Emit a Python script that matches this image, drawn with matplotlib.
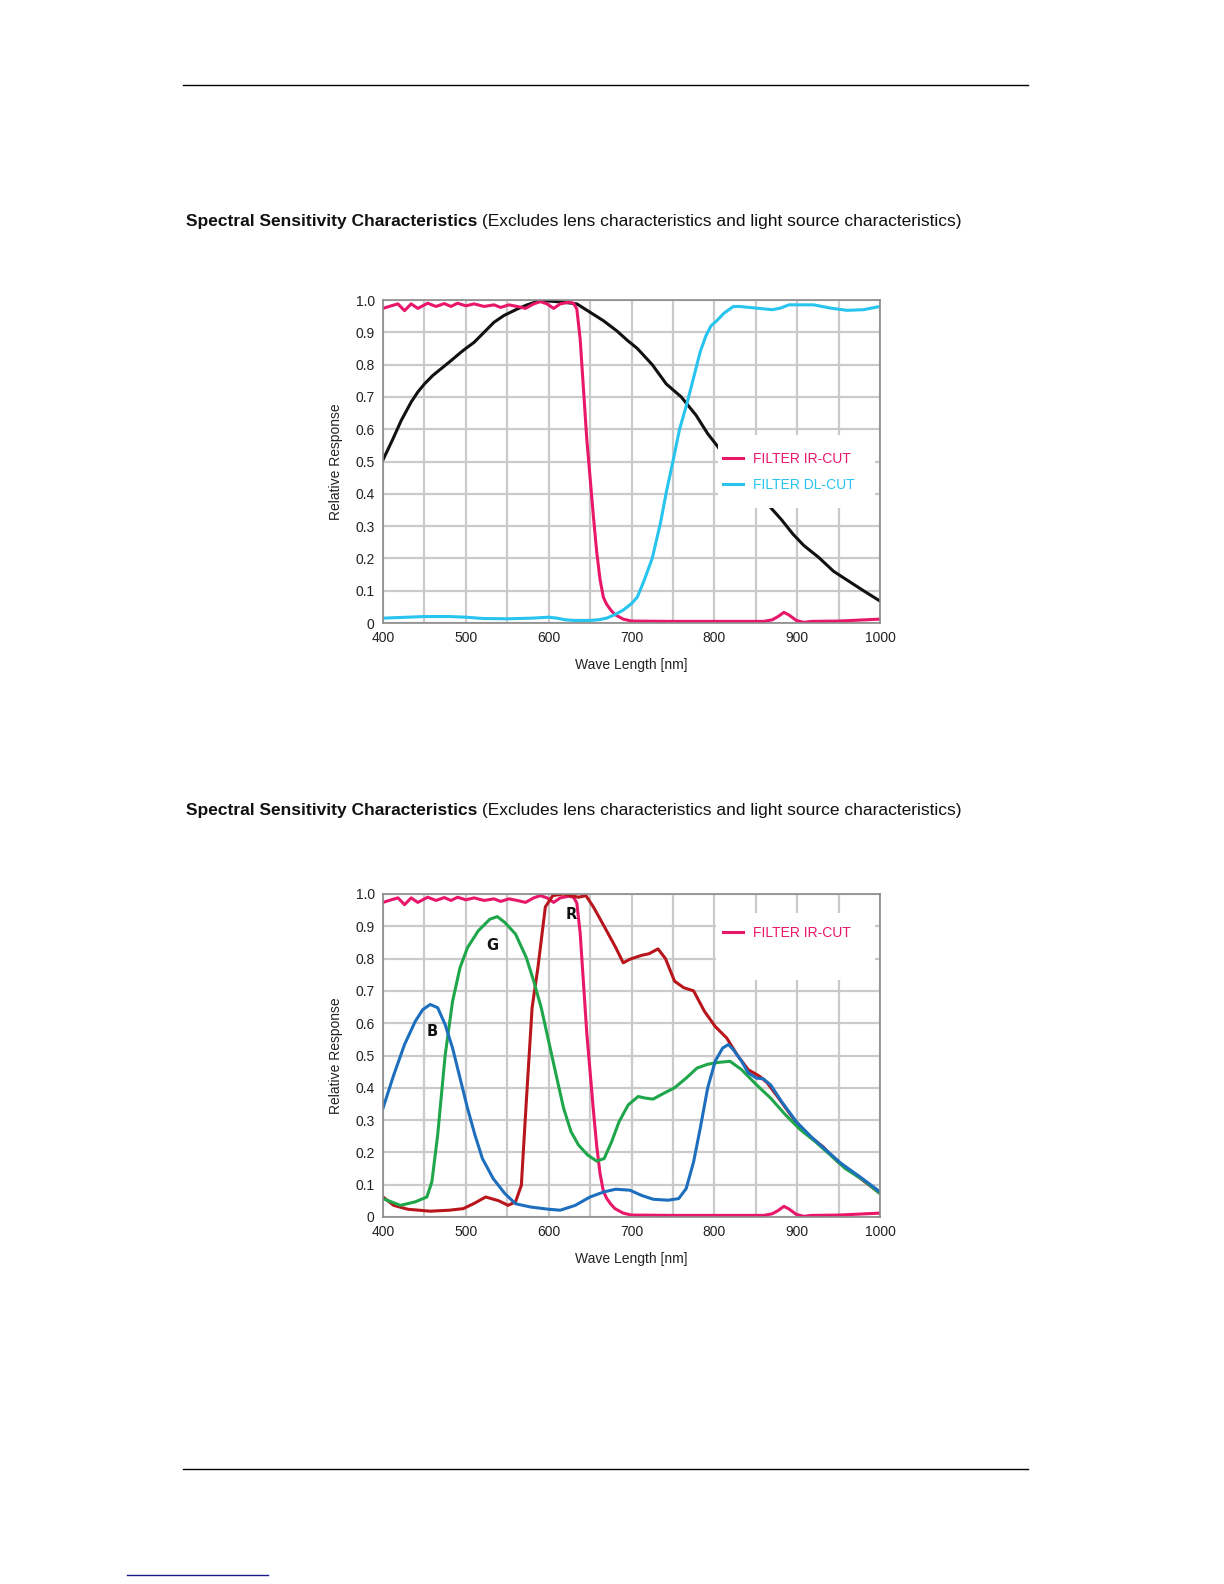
import numpy as np
import matplotlib
matplotlib.use("Agg")
import matplotlib.pyplot as plt
from matplotlib.patches import Rectangle

plt.rcParams['font.family'] = ['Liberation Sans', 'DejaVu Sans']

# Mono sensor response (top chart, black)
mono_wl = [400, 412, 422, 434, 442, 450, 460, 470, 482, 494, 500, 510, 522, 534, 546, 562, 574, 586,
           600, 618, 634, 650, 666, 682, 695, 707, 725, 742, 760, 778, 792, 803, 820, 840, 855, 866,
           881, 895, 908, 926, 944, 962, 980, 1000]
mono_val = [0.505, 0.57, 0.627, 0.684, 0.715, 0.74, 0.766, 0.787, 0.812, 0.838, 0.85, 0.869, 0.90,
            0.931, 0.952, 0.972, 0.985, 0.995, 0.997, 0.993, 0.988, 0.962, 0.936, 0.905, 0.875, 0.85,
            0.80, 0.74, 0.70, 0.643, 0.586, 0.55, 0.49, 0.43, 0.39, 0.363, 0.32, 0.275, 0.24, 0.203,
            0.16, 0.13, 0.10, 0.068]

# IR-cut filter
ir_wl = [400, 410, 418, 426, 434, 442, 454, 464, 474, 482, 490, 500, 510, 522, 534, 542, 552, 562,
         572, 582, 590, 598, 606, 614, 624, 630, 634, 638, 642, 646, 650, 654, 658, 662, 666, 670,
         675, 680, 690, 700, 750, 800, 860, 870, 877, 884, 890, 899, 908, 917, 950, 1000]
ir_val = [0.974, 0.982, 0.988, 0.967, 0.988, 0.974, 0.99, 0.98, 0.989, 0.98, 0.99, 0.982, 0.988,
          0.98, 0.985, 0.977, 0.985, 0.98, 0.974, 0.988, 0.995, 0.988, 0.974, 0.988, 0.993, 0.99,
          0.972, 0.88, 0.725, 0.57, 0.45, 0.33, 0.22, 0.135, 0.08, 0.058, 0.04, 0.026, 0.012, 0.006,
          0.005, 0.005, 0.005, 0.01, 0.02, 0.033, 0.025, 0.008, 0.002, 0.005, 0.006, 0.012]

# Daylight-cut filter
dl_wl = [400, 420, 450, 480, 500, 520, 550, 580, 600, 610, 620, 630, 650, 660, 670, 680, 690, 700, 707,
         715, 725, 735, 742, 750, 758, 767, 775, 783, 790, 796, 803, 812, 823, 830, 850, 870, 880, 890,
         900, 920, 940, 960, 980, 1000]
dl_val = [0.015, 0.017, 0.02, 0.02, 0.018, 0.014, 0.013, 0.015, 0.018, 0.015, 0.01, 0.008, 0.008, 0.01,
          0.015, 0.026, 0.04, 0.06, 0.08, 0.13, 0.20, 0.31, 0.405, 0.50, 0.60, 0.68, 0.76, 0.84, 0.89,
          0.92, 0.936, 0.96, 0.98, 0.98, 0.975, 0.97, 0.975, 0.985, 0.985, 0.985, 0.975, 0.968, 0.97, 0.98]

# Colour sensor (bottom chart)
r_wl = [400, 413, 430, 457, 480, 497, 510, 524, 540, 551, 560, 567, 573, 580, 587, 596, 605, 618, 636,
        645, 654, 667, 681, 690, 698, 712, 721, 732, 741, 752, 763, 775, 788, 801, 815, 828, 841, 855,
        864, 877, 895, 913, 931, 949, 971, 1000]
r_val = [0.062, 0.036, 0.024, 0.018, 0.021, 0.026, 0.042, 0.062, 0.05, 0.036, 0.047, 0.098, 0.357,
         0.648, 0.772, 0.96, 0.995, 1.0, 0.99, 0.995, 0.96, 0.90, 0.834, 0.787, 0.798, 0.81, 0.815,
         0.83, 0.80, 0.73, 0.71, 0.70, 0.637, 0.59, 0.554, 0.50, 0.456, 0.435, 0.415, 0.37, 0.306,
         0.254, 0.218, 0.171, 0.13, 0.073]

g_wl = [400, 421, 439, 453, 459, 466, 475, 484, 493, 502, 515, 529, 538, 547, 560, 573, 582, 591, 600,
        609, 618, 627, 636, 647, 658, 667, 676, 685, 696, 708, 717, 726, 739, 752, 766, 779, 792, 806,
        819, 833, 851, 868, 886, 904, 922, 940, 958, 980, 1000]
g_val = [0.057, 0.036, 0.047, 0.062, 0.109, 0.254, 0.50, 0.668, 0.772, 0.834, 0.886, 0.922, 0.93,
         0.912, 0.876, 0.803, 0.73, 0.648, 0.544, 0.44, 0.337, 0.264, 0.223, 0.192, 0.173, 0.181,
         0.233, 0.295, 0.347, 0.373, 0.368, 0.365, 0.383, 0.40, 0.43, 0.461, 0.473, 0.479, 0.482,
         0.456, 0.409, 0.368, 0.316, 0.27, 0.233, 0.192, 0.15, 0.114, 0.073]

b_wl = [400, 413, 426, 439, 448, 457, 466, 475, 484, 493, 502, 511, 520, 533, 547, 560, 578, 600, 614,
        632, 650, 667, 681, 698, 712, 726, 744, 757, 766, 775, 783, 792, 801, 810, 817, 823, 833, 841,
        851, 859, 868, 881, 899, 917, 935, 953, 976, 1000]
b_val = [0.337, 0.44, 0.534, 0.606, 0.642, 0.658, 0.648, 0.596, 0.523, 0.43, 0.337, 0.254, 0.181,
         0.119, 0.073, 0.041, 0.031, 0.024, 0.021, 0.036, 0.062, 0.078, 0.086, 0.083, 0.067, 0.055,
         0.052, 0.057, 0.088, 0.171, 0.275, 0.40, 0.482, 0.523, 0.534, 0.518, 0.482, 0.446, 0.43,
         0.428, 0.409, 0.358, 0.295, 0.248, 0.207, 0.166, 0.124, 0.078]

PINK = '#e8176a'
CYAN = '#26c4ee'
BLACK = '#111111'
RED = '#b8161c'
GREEN = '#1fa64a'
BLUE = '#1d6fbe'

TITLE_BOLD = "Spectral Sensitivity Characteristics"
TITLE_REST = " (Excludes lens characteristics and light source characteristics)"

fig = plt.figure(figsize=(12.24, 15.84), dpi=100)

W, H = 1224, 1584
FS = 10


def setup_axes(top_px):
    left, right = 383, 880
    bottom = top_px + 323
    ax = fig.add_axes([left / W, 1 - bottom / H, (right - left) / W, 323 / H])
    ax.set_xlim(400, 1000)
    ax.set_ylim(0, 1.0)
    ax.set_xticks(np.arange(400, 1001, 100))
    ax.set_xticks(np.arange(450, 1000, 100), minor=True)
    ax.set_yticks(np.arange(0, 1.01, 0.1))
    ax.set_yticklabels(['0'] + ['%.1f' % v for v in np.arange(0.1, 1.01, 0.1)])
    ax.grid(True, which='both', color='#cacaca', lw=1.6)
    ax.set_axisbelow(True)
    ax.tick_params(which='both', length=0, labelsize=FS, colors='#222222', pad=6)
    for s in ax.spines.values():
        s.set_color('#8a8a8a')
        s.set_linewidth(1.2)
    ax.set_xlabel('Wave Length [nm]', fontsize=FS, color='#222222', labelpad=9)
    ax.set_ylabel('Relative Response', fontsize=FS, color='#222222', labelpad=9)
    return ax


def add_title(y_px):
    t1 = fig.text(186 / W, 1 - y_px / H, TITLE_BOLD, fontsize=12.5, fontweight='bold',
                  va='baseline', ha='left', color='#111111')
    fig.canvas.draw()
    bb = t1.get_window_extent(fig.canvas.get_renderer())
    fig.text(bb.x1 / W, 1 - y_px / H, TITLE_REST, fontsize=12.5, va='baseline', ha='left',
             color='#111111')


# header / footer rules
fig.add_artist(plt.Line2D([183 / W, 1028 / W], [1 - 85 / H] * 2, color='black', lw=1))
fig.add_artist(plt.Line2D([183 / W, 1028 / W], [1 - 1469 / H] * 2, color='black', lw=1))
fig.add_artist(plt.Line2D([127 / W, 268 / W], [1 - 1575 / H] * 2, color='#1a1a8c', lw=1))

add_title(226)
add_title(815)

# top chart
ax1 = setup_axes(300)
ax1.plot(mono_wl, mono_val, color=BLACK, lw=2.2, zorder=2)
ax1.plot(ir_wl, ir_val, color=PINK, lw=2.2, label='FILTER IR-CUT', zorder=2)
ax1.plot(dl_wl, dl_val, color=CYAN, lw=2.2, label='FILTER DL-CUT', zorder=2)
ax1.add_patch(Rectangle((0.674, 0.356), 0.316, 0.226, transform=ax1.transAxes,
                        facecolor='white', edgecolor='none', zorder=3))
leg1 = ax1.legend(loc='upper left', bbox_to_anchor=(0.685, 0.53), frameon=False, fontsize=FS,
                  handlelength=1.4, handletextpad=0.75, labelspacing=0.85, borderpad=0,
                  borderaxespad=0, labelcolor='linecolor')
leg1.set_zorder(4)

# bottom chart
ax2 = setup_axes(894)
ax2.plot(ir_wl, ir_val, color=PINK, lw=2.2, label='FILTER IR-CUT', zorder=2)
ax2.plot(r_wl, r_val, color=RED, lw=2.2, zorder=2)
ax2.plot(g_wl, g_val, color=GREEN, lw=2.2, zorder=2)
ax2.plot(b_wl, b_val, color=BLUE, lw=2.2, zorder=2)
ax2.add_patch(Rectangle((0.67, 0.734), 0.32, 0.207, transform=ax2.transAxes,
                        facecolor='white', edgecolor='none', zorder=3))
leg2 = ax2.legend(handles=ax2.lines[:1], loc='upper left', bbox_to_anchor=(0.685, 0.90),
                  frameon=False, fontsize=FS, handlelength=1.4, handletextpad=0.75, borderpad=0,
                  borderaxespad=0, labelcolor='linecolor')
leg2.set_zorder(4)

for txt, x, y in [('B', 459, 0.575), ('G', 532, 0.84), ('R', 627, 0.935)]:
    ax2.text(x, y, txt, fontsize=10.5, fontweight='bold', ha='center', va='center', color='#111111',
             family=['DejaVu Sans Condensed', 'DejaVu Sans'], zorder=5)

fig.savefig('out.png', dpi=100, facecolor='white')
